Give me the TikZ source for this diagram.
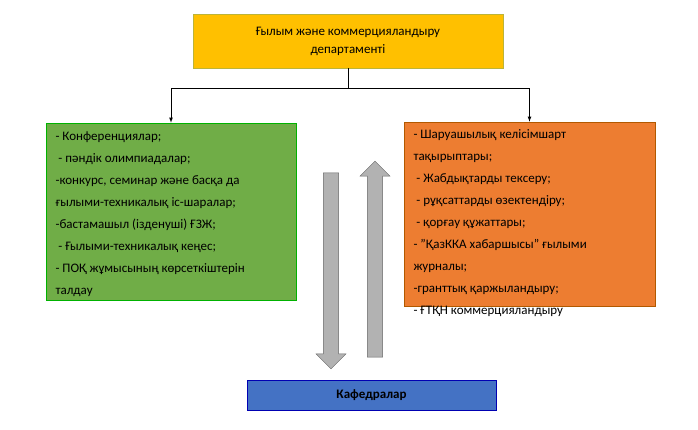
\documentclass[tikz,border=0pt]{standalone}
\usepackage{fontspec}
\setmainfont{Carlito}
\usetikzlibrary{shapes.arrows}
\begin{document}
\begin{tikzpicture}[x=1pt,y=-1pt,
 box/.style={draw=#1!70!black, line width=0.6pt, inner sep=0pt, font=\fontsize{13}{22}\selectfont},
 garrow/.style={single arrow, draw=gray!80!black, fill=gray!60, minimum height=196pt, minimum width=30pt, single arrow head extend=5pt, inner sep=5pt, single arrow head indent=0pt}]
\useasboundingbox (0,0) rectangle (698,429);
\fill[white] (0,0) rectangle (698,429);
\node[box=yellow, fill={rgb,255:red,255;green,192;blue,0}, minimum width=310pt, minimum height=54pt, align=center, font=\fontsize{13}{18}\selectfont] (top) at (348,41) {Ғылым және коммерцияландыру\\департаменті};
\node[box=green, fill={rgb,255:red,112;green,173;blue,71}, minimum width=250pt, minimum height=177pt] (g) at (171,211.5) {};
\node[anchor=north west, align=left, font=\fontsize{13}{22}\selectfont] at (52,128) {- Конференциялар;\\ \ - пәндік олимпиадалар;\\-конкурс, семинар және басқа да\\ғылыми-техникалық іс-шаралар;\\-бастамашыл (ізденуші) ҒЗЖ;\\ \ - Ғылыми-техникалық кеңес;\\- ПОҚ жұмысының көрсеткіштерін\\талдау};
\node[box=orange, fill={rgb,255:red,237;green,125;blue,49}, minimum width=251pt, minimum height=184pt] (o) at (529.5,214) {};
\node[anchor=north west, align=left, font=\fontsize{13}{22}\selectfont] at (410,126) {- Шаруашылық келісімшарт\\тақырыптары;\\ \ - Жабдықтарды тексеру;\\ \ - рұқсаттарды өзектендіру;\\ \ - қорғау құжаттары;\\- "ҚазККА хабаршысы" ғылыми\\журналы;\\-гранттық қаржыландыру;\\- ҒТҚН коммерцияландыру};
\node[box=blue, fill={rgb,255:red,68;green,114;blue,196}, minimum width=249pt, minimum height=30pt, font=\fontsize{13}{16}\selectfont\bfseries] (k) at (371.5,395) {Кафедралар};
\coordinate (j) at (348,88);
\draw[line width=0.8pt] (top.south) -- (j);
\draw[line width=0.8pt,-latex] (j) -| (g.north);
\draw[line width=0.8pt,-latex] (j) -| (o.north);
\node[garrow, shape border rotate=270] (dn) at (331,267) {};
\node[garrow, shape border rotate=90] (up) at (375,263) {};
\end{tikzpicture}
\end{document}
